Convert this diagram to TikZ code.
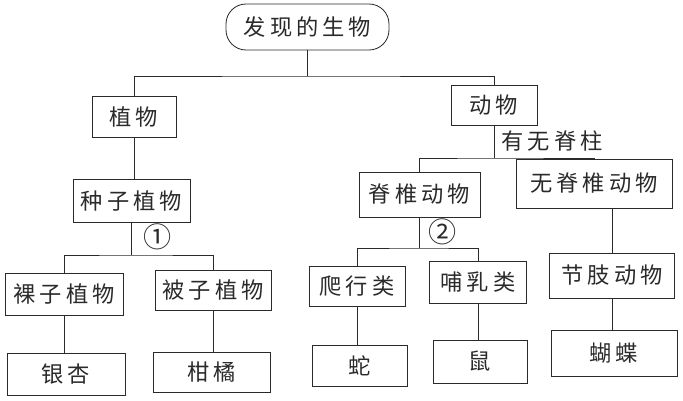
\documentclass[tikz,border=0pt]{standalone}
\usepackage{fontspec}
\usepackage{tikz}
\newfontfamily\cjk[LetterSpace=18]{Noto Sans CJK SC}
\definecolor{ink}{HTML}{2A2A2A}

\begin{document}
\begin{tikzpicture}[x=0.03cm, y=-0.03cm, font=\cjk\fontsize{19}{22}\selectfont,
  box/.style={draw=ink, line width=0.7pt, text=ink, inner sep=0pt, minimum height=1.26cm},
  pill/.style={box, rounded corners=0.6cm},
  link/.style={draw=ink, line width=0.6pt},
  lbl/.style={text=ink, inner sep=1pt},
  num/.style={lbl, font=\cjk\fontsize{24}{26}\selectfont}]
\useasboundingbox (0,0) rectangle (683,401);
% top level
\node[pill, minimum width=4.89cm, minimum height=1.38cm] (root) at (307.5,27) {发现的生物};
\node[box, minimum width=2.52cm, minimum height=1.23cm] (plant) at (134,116.5) {植物};
\node[box, minimum width=2.58cm, minimum height=1.2cm] (animal) at (494,105) {动物};
% plants
\node[box, minimum width=3.51cm, minimum height=1.29cm] (seed) at (131.5,200.5) {种子植物};
\node[box, minimum width=3.54cm] (gymno) at (64,294) {裸子植物};
\node[box, minimum width=3.48cm, minimum height=1.2cm] (angio) at (213,290) {被子植物};
\node[box, minimum width=3.54cm] (ginkgo) at (66,374) {银杏};
\node[box, minimum width=3.51cm, minimum height=1.2cm] (orange) at (212,372) {柑橘};
% animals
\node[box, minimum width=3.63cm, minimum height=1.35cm] (vert) at (419.5,194.5) {脊椎动物};
\node[box, minimum width=4.68cm, minimum height=1.47cm] (invert) at (594,183.5) {无脊椎动物};
\node[box, minimum width=2.88cm, minimum height=1.2cm] (reptile) at (357,286) {爬行类};
\node[box, minimum width=2.91cm] (mammal) at (478,282) {哺乳类};
\node[box, minimum width=3.75cm, minimum height=1.35cm] (arthro) at (612,275.5) {节肢动物};
\node[box, minimum width=2.85cm, minimum height=1.23cm] (snake) at (360,365.5) {蛇};
\node[box, minimum width=2.82cm, minimum height=1.29cm] (mouse) at (480,361.5) {鼠};
\node[box, minimum width=3.78cm, minimum height=1.38cm] (butterfly) at (614,353) {蝴蝶};
% labels
\node[lbl] (spine) at (552,141) {有无脊柱};
\node[num] (c1) at (158,237) {①};
\node[num] (c2) at (443,232) {②};
% junctions
\coordinate (j0) at (308,76);
\coordinate (j1) at (133,255);
\coordinate (j2) at (494,158);
\coordinate (j3) at (420,248);
% links
\draw[link] (root.south) -- (root.south |- j0);
\draw[link] (plant.north) |- (j0) -| (animal.north);
\draw[link] (plant.south) -- (plant.south |- seed.north);
\draw[link] (seed.south) -- (seed.south |- j1);
\draw[link] (gymno.north) |- (j1) -| (angio.north);
\draw[link] (gymno.south) -- (gymno.south |- ginkgo.north);
\draw[link] (angio.south) -- (angio.south |- orange.north);
\draw[link] (animal.south) -- (animal.south |- j2);
\draw[link] (vert.north) |- (j2) -| (invert.north);
\draw[link] (vert.south) -- (vert.south |- j3);
\draw[link] (reptile.north) |- (j3) -| (mammal.north);
\draw[link] (arthro.north) -- (arthro.north |- invert.south);
\draw[link] (reptile.south) -- (reptile.south |- snake.north);
\draw[link] (mammal.south) -- (mammal.south |- mouse.north);
\draw[link] (arthro.south) -- (arthro.south |- butterfly.north);
\end{tikzpicture}
\end{document}
